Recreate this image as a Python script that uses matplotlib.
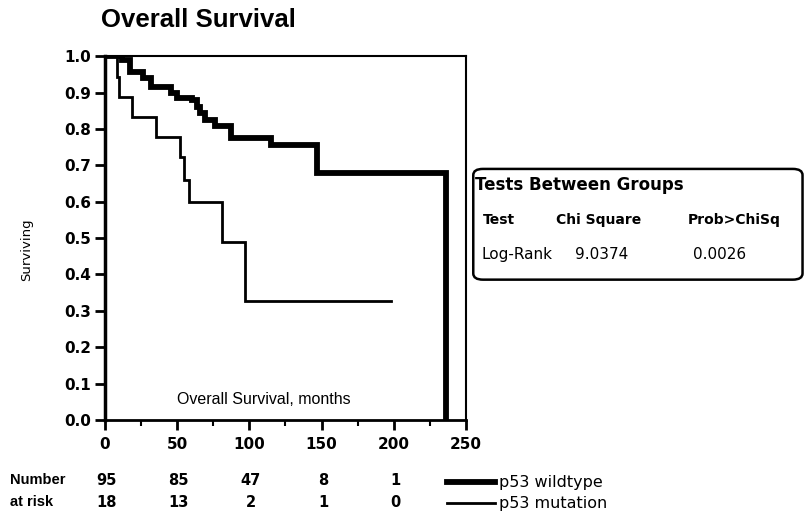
import matplotlib.pyplot as plt
from matplotlib.patches import FancyBboxPatch
from matplotlib.lines import Line2D
import matplotlib.transforms as mtransforms

plt.rcParams['font.family'] = ['Liberation Sans', 'DejaVu Sans']

# Kaplan-Meier steps, p53 wildtype
wt_months = [0, 12, 17, 26, 32, 46, 50, 60, 64, 66, 69, 76, 87, 115, 147, 236]
wt_surv = [1.0, 0.99, 0.956, 0.94, 0.915, 0.898, 0.885, 0.879, 0.86, 0.843,
           0.824, 0.808, 0.775, 0.757, 0.679, 0.0]

# Kaplan-Meier steps, p53 mutation
mut_months = [0, 8, 10, 19, 35, 52, 55, 58, 81, 97, 198]
mut_surv = [1.0, 0.944, 0.889, 0.833, 0.778, 0.722, 0.66, 0.6, 0.49, 0.327, 0.327]

# number at risk
risk_months = [0, 50, 100, 150, 200]
risk_wt = [95, 85, 47, 8, 1]
risk_mut = [18, 13, 2, 1, 0]

# log-rank test table
test_header = ['Test', 'Chi Square', 'Prob>ChiSq']
test_row = ['Log-Rank', '9.0374', '0.0026']

DV = 'DejaVu Sans'

fig = plt.figure(figsize=(8.09, 5.15), dpi=100)
ax = fig.add_axes([0.1298, 0.1845, 0.4462, 0.7065])

ax.step(wt_months, wt_surv, where='post', color='black', lw=4.2, solid_joinstyle='miter')
ax.step(mut_months, mut_surv, where='post', color='black', lw=2.0, solid_joinstyle='miter')

ax.set_xlim(0, 250)
ax.set_ylim(0, 1.0)
ax.set_yticks([i / 10 for i in range(11)])
ax.set_yticklabels(['%.1f' % (i / 10) for i in range(11)])
ax.set_xticks(risk_months + [250])
ax.set_xticks([25, 75, 125, 175, 225], minor=True)
for lab in ax.get_xticklabels() + ax.get_yticklabels():
    lab.set_family(DV)
    lab.set_fontweight('bold')
    lab.set_fontsize(11)

ax.tick_params(axis='y', which='major', direction='out', length=7, width=2, pad=3)
ax.tick_params(axis='x', which='major', direction='out', length=7, width=2, pad=5)
ax.tick_params(axis='x', which='minor', direction='out', length=4, width=1.5)
ax.spines['left'].set_linewidth(2.5)
ax.spines['bottom'].set_linewidth(2)
ax.spines['top'].set_linewidth(1.5)
ax.spines['right'].set_linewidth(1.5)

ax.text(0.44, 0.055, 'Overall Survival, months', transform=ax.transAxes,
        ha='center', va='center', fontsize=11.5)

fig.text(0.033, 0.515, 'Surviving', rotation=90, ha='center', va='center',
         fontsize=9.5, family=DV)
fig.text(0.125, 0.962, 'Overall Survival', ha='left', va='center',
         fontsize=18.5, fontweight='bold')

# number at risk rows
tr = mtransforms.blended_transform_factory(ax.transData, fig.transFigure)
fig.text(0.012, 0.067, 'Number', ha='left', va='center', fontsize=10.5,
         fontweight='bold')
fig.text(0.012, 0.025, 'at risk', ha='left', va='center', fontsize=10.5,
         fontweight='bold')
for m, a, b in zip(risk_months, risk_wt, risk_mut):
    ax.text(m + 1, 0.067, str(a), transform=tr, ha='center', va='center',
            fontsize=10.5, fontweight='bold', family=DV, clip_on=False)
    ax.text(m + 1, 0.025, str(b), transform=tr, ha='center', va='center',
            fontsize=10.5, fontweight='bold', family=DV, clip_on=False)

# legend lines
fig.add_artist(Line2D([0.553, 0.612], [0.064, 0.064], color='black', lw=4.2))
fig.add_artist(Line2D([0.553, 0.612], [0.023, 0.023], color='black', lw=2.0))
fig.text(0.617, 0.064, 'p53 wildtype', ha='left', va='center', fontsize=11.5, family=DV)
fig.text(0.617, 0.023, 'p53 mutation', ha='left', va='center', fontsize=11.5, family=DV)

# tests box
box = FancyBboxPatch((0.585, 0.457), 0.407, 0.215,
                     boxstyle='round,pad=0,rounding_size=0.012',
                     transform=fig.transFigure, fill=False, ec='black', lw=1.8)
fig.add_artist(box)
fig.text(0.587, 0.640, 'Tests Between Groups', ha='left', va='center',
         fontsize=12, fontweight='bold', family=DV)
col_x = [0.597, 0.687, 0.850]
for x, h in zip(col_x, test_header):
    fig.text(x, 0.572, h, ha='left', va='center', fontsize=10,
             fontweight='bold', family=DV)
row_x = [0.595, 0.711, 0.856]
for x, v in zip(row_x, test_row):
    fig.text(x, 0.505, v, ha='left', va='center', fontsize=11, family=DV)

fig.savefig('out.png', dpi=100)
